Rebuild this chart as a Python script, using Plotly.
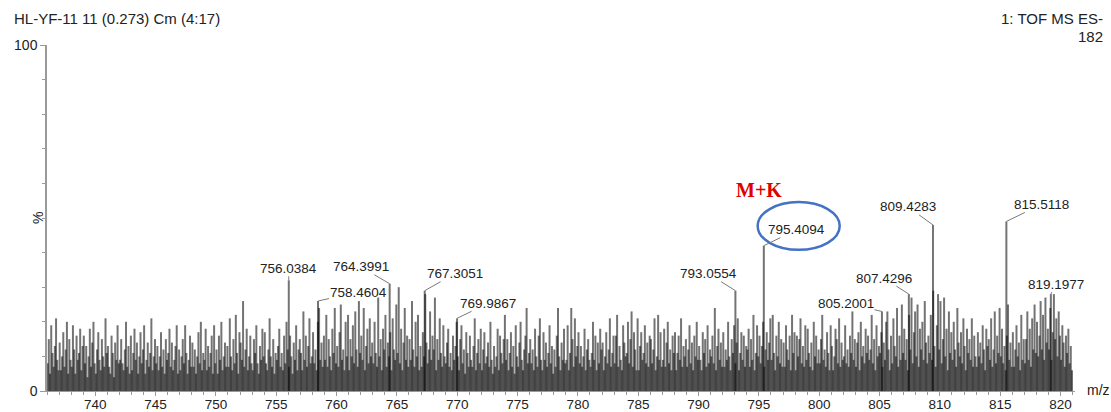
import plotly.graph_objects as go

# ---- spectrum header ----
sample_title = "HL-YF-11 11 (0.273) Cm (4:17)"
scan_function = "1: TOF MS ES-"
scan_count = "182"

# ---- labelled peaks (m/z, relative intensity %) ----
peak_mz = [756.0384, 758.4604, 764.3991, 767.3051, 769.9867, 793.0554,
           795.4094, 805.2001, 807.4296, 809.4283, 815.5118, 819.1977]
peak_int = [32, 26, 31, 29, 21, 29, 42, 23, 28, 48, 49, 28]
# label offsets (pixels) from the peak top to the label centre
label_dx = [0, 40, -29, 30, 31, -27, 33, -36, -25, -25, 35, 5]
label_dy = [-12, -9, -17, -17, -15, -17, -16, -8, -16, -18, -17, -10]

# ---- background ion signal, one row per nominal mass, 0.1 Da apart ----
noise_start = 736.05
noise_step = 0.1
noise_rows = [
    [8, 15, 5, 19, 11, 7, 13, 21, 9, 6],      # 736
    [14, 6, 10, 17, 7, 12, 20, 5, 15, 9],     # 737
    [7, 19, 12, 5, 16, 9, 11, 18, 6, 13],     # 738
    [16, 8, 13, 4, 10, 18, 7, 14, 20, 8],     # 739
    [5, 12, 17, 9, 6, 15, 10, 7, 21, 11],     # 740
    [13, 7, 5, 16, 11, 4, 14, 9, 19, 8],      # 741
    [9, 15, 8, 6, 12, 20, 7, 13, 5, 16],      # 742
    [6, 11, 18, 9, 14, 5, 10, 17, 8, 12],     # 743
    [19, 5, 9, 14, 7, 11, 21, 6, 10, 15],     # 744
    [8, 13, 6, 10, 17, 7, 12, 5, 15, 9],      # 745
    [11, 18, 7, 14, 6, 9, 13, 19, 5, 12],     # 746
    [6, 10, 15, 8, 19, 11, 5, 9, 16, 7],      # 747
    [14, 7, 12, 5, 10, 17, 8, 20, 6, 11],     # 748
    [9, 18, 6, 13, 7, 11, 16, 5, 19, 8],      # 749
    [12, 5, 16, 9, 20, 6, 10, 14, 7, 13],     # 750
    [7, 21, 10, 6, 15, 8, 22, 11, 5, 17],     # 751
    [14, 9, 26, 7, 12, 18, 6, 10, 16, 8],     # 752
    [6, 15, 11, 19, 8, 5, 13, 9, 18, 10],     # 753
    [17, 8, 6, 12, 21, 10, 7, 15, 5, 11],     # 754
    [9, 13, 18, 7, 11, 6, 16, 8, 20, 12],     # 755
    [7, 16, 10, 5, 14, 9, 19, 6, 12, 15],     # 756
    [11, 6, 23, 9, 16, 7, 13, 21, 8, 10],     # 757
    [17, 8, 12, 6, 20, 24, 9, 14, 7, 16],     # 758
    [9, 22, 7, 15, 10, 6, 18, 11, 24, 8],     # 759
    [13, 7, 17, 25, 9, 12, 6, 20, 10, 22],    # 760
    [6, 15, 10, 19, 8, 23, 12, 7, 26, 11],    # 761
    [16, 9, 24, 6, 13, 18, 8, 21, 10, 14],    # 762
    [8, 20, 11, 7, 27, 10, 15, 6, 18, 12],    # 763
    [22, 7, 14, 10, 17, 6, 21, 12, 9, 25],    # 764
    [11, 30, 8, 18, 6, 14, 24, 9, 16, 7],     # 765
    [15, 9, 26, 12, 7, 20, 10, 22, 6, 13],    # 766
    [7, 17, 10, 28, 14, 8, 12, 23, 9, 16],    # 767
    [12, 27, 6, 15, 9, 21, 11, 7, 19, 10],    # 768
    [8, 14, 18, 7, 11, 6, 16, 9, 13, 20],     # 769
    [10, 6, 15, 19, 8, 12, 5, 17, 11, 7],     # 770
    [16, 9, 7, 13, 21, 6, 11, 15, 8, 18],     # 771
    [6, 12, 17, 8, 10, 14, 7, 20, 9, 5],      # 772
    [13, 7, 10, 18, 6, 16, 11, 8, 15, 22],    # 773
    [9, 15, 6, 11, 17, 7, 13, 5, 19, 10],     # 774
    [7, 14, 20, 9, 6, 12, 16, 24, 8, 11],     # 775
    [15, 8, 12, 6, 18, 10, 7, 16, 21, 9],     # 776
    [6, 17, 9, 14, 7, 11, 19, 8, 13, 5],      # 777
    [12, 7, 16, 24, 10, 6, 14, 9, 18, 8],     # 778
    [9, 19, 6, 11, 24, 15, 7, 21, 10, 13],    # 779
    [17, 8, 13, 7, 10, 18, 6, 12, 15, 9],     # 780
    [7, 11, 20, 9, 16, 6, 14, 8, 18, 12],     # 781
    [14, 6, 10, 17, 8, 12, 21, 7, 11, 16],    # 782
    [8, 16, 22, 7, 13, 9, 6, 19, 14, 10],     # 783
    [11, 20, 8, 15, 23, 7, 17, 12, 6, 21],    # 784
    [6, 13, 17, 9, 11, 19, 8, 14, 7, 16],     # 785
    [15, 8, 12, 21, 6, 10, 22, 9, 17, 7],     # 786
    [9, 18, 7, 14, 20, 8, 12, 6, 16, 11],     # 787
    [17, 6, 11, 16, 9, 21, 7, 13, 10, 15],    # 788
    [7, 12, 19, 8, 14, 6, 16, 10, 20, 9],     # 789
    [13, 9, 6, 17, 11, 15, 7, 19, 8, 12],     # 790
    [10, 16, 8, 24, 6, 13, 18, 9, 14, 7],     # 791
    [17, 7, 12, 9, 20, 10, 6, 15, 11, 19],    # 792
    [8, 14, 21, 6, 11, 17, 9, 16, 7, 13],     # 793
    [12, 18, 7, 15, 9, 22, 6, 11, 19, 10],    # 794
    [16, 8, 13, 20, 7, 12, 17, 9, 14, 21],    # 795
    [9, 22, 11, 6, 16, 10, 20, 8, 15, 7],     # 796
    [14, 7, 19, 12, 9, 16, 6, 22, 11, 17],    # 797
    [6, 16, 10, 15, 21, 8, 13, 7, 19, 9],     # 798
    [18, 11, 7, 14, 6, 20, 10, 16, 8, 12],    # 799
    [8, 15, 22, 9, 12, 7, 17, 11, 6, 19],     # 800
    [13, 6, 10, 18, 15, 8, 21, 7, 14, 9],     # 801
    [10, 19, 8, 12, 7, 16, 11, 23, 9, 15],    # 802
    [7, 14, 17, 6, 20, 10, 13, 8, 18, 11],    # 803
    [16, 9, 12, 22, 8, 15, 6, 19, 10, 13],    # 804
    [11, 17, 7, 14, 9, 20, 23, 12, 6, 16],    # 805
    [8, 21, 13, 10, 24, 7, 16, 9, 25, 11],    # 806
    [18, 9, 15, 6, 22, 12, 27, 8, 17, 23],    # 807
    [10, 25, 7, 18, 12, 20, 9, 26, 14, 8],    # 808
    [16, 11, 22, 9, 29, 13, 7, 19, 28, 12],   # 809
    [26, 8, 15, 27, 10, 18, 6, 23, 11, 17],   # 810
    [9, 20, 12, 7, 24, 14, 10, 17, 8, 21],    # 811
    [13, 6, 18, 11, 15, 9, 21, 7, 16, 10],    # 812
    [7, 17, 10, 14, 8, 19, 12, 6, 18, 13],    # 813
    [15, 9, 21, 7, 12, 23, 8, 16, 11, 24],    # 814
    [10, 18, 8, 13, 6, 16, 25, 9, 14, 7],     # 815
    [17, 7, 12, 19, 10, 14, 6, 22, 9, 15],    # 816
    [8, 15, 23, 9, 18, 7, 21, 12, 25, 11],    # 817
    [20, 10, 16, 26, 12, 22, 9, 27, 14, 18],  # 818
    [12, 24, 9, 17, 28, 15, 21, 10, 23, 16],  # 819
    [9, 19, 14, 7, 16, 11, 18, 8, 13, 6],     # 820
]

# ---- axis ----
mz_range = [736.0, 821.2]
mz_ticks = [740, 745, 750, 755, 760, 765, 770, 775, 780, 785, 790, 795,
            800, 805, 810, 815, 820]
pct_ticks = [0, 100]

FONT = "Liberation Sans, Arial, sans-serif"
STICK = "rgba(0,0,0,0.55)"
AXIS = "#9a9a9a"
TEXT = "#222222"

# every ion is a vertical stick from the baseline; sticks are spread over a
# few interleaved traces so that neighbouring sticks blend where they touch
N_LAYERS = 4
sticks = []
k = 0
for row in noise_rows:
    for h in row:
        sticks.append((noise_start + noise_step * k, h))
        k += 1
sticks += list(zip(peak_mz, peak_int))
sticks.sort()

fig = go.Figure()
for layer in range(N_LAYERS):
    xs, ys = [], []
    for mz, h in sticks[layer::N_LAYERS]:
        xs += [mz, mz, None]
        ys += [0, h, None]
    fig.add_trace(go.Scatter(
        x=xs, y=ys, mode="lines",
        line=dict(color=STICK, width=2),
        hoverinfo="skip", showlegend=False,
    ))

annotations = []
for mz, h, dx, dy in zip(peak_mz, peak_int, label_dx, label_dy):
    annotations.append(dict(
        x=mz, y=h, xref="x", yref="y",
        text=f"{mz:.4f}", showarrow=True,
        ax=dx, ay=dy, arrowhead=0, arrowwidth=1, arrowcolor="#7a7a7a",
        standoff=0, startstandoff=0,
        font=dict(family=FONT, size=13.5, color=TEXT),
        borderpad=0,
    ))

# header texts
annotations += [
    dict(text=sample_title, xref="paper", yref="paper", x=0, xshift=-35,
         y=1.0, yshift=27, xanchor="left", yanchor="middle", showarrow=False,
         font=dict(family=FONT, size=15, color=TEXT)),
    dict(text=scan_function, xref="paper", yref="paper", x=1.0, xshift=30,
         y=1.0, yshift=27, xanchor="right", yanchor="middle", showarrow=False,
         font=dict(family=FONT, size=15, color=TEXT)),
    dict(text=scan_count, xref="paper", yref="paper", x=1.0, xshift=30,
         y=1.0, yshift=9, xanchor="right", yanchor="middle", showarrow=False,
         font=dict(family=FONT, size=15, color=TEXT)),
    dict(text="%", xref="paper", yref="paper", x=0, xshift=-9, y=0.5,
         textangle=-90, xanchor="center", yanchor="middle", showarrow=False,
         font=dict(family=FONT, size=14, color=TEXT)),
    dict(text="m/z", xref="paper", yref="paper", x=1.0, xshift=10, y=0,
         yshift=1, xanchor="left", yanchor="middle", showarrow=False,
         font=dict(family=FONT, size=14, color=TEXT)),
    dict(text="<b>M+K</b>", xref="x", yref="y", x=795.0, y=58.1,
         xanchor="center", yanchor="middle", showarrow=False,
         font=dict(family="Liberation Serif, Times New Roman, serif",
                   size=20, color="#e00000")),
]

fig.update_layout(
    width=1111, height=412, autosize=False,
    margin=dict(l=47, r=36, t=45, b=21),
    paper_bgcolor="white", plot_bgcolor="white",
    annotations=annotations,
    shapes=[dict(type="circle", xref="x", yref="y",
                 x0=794.9, x1=801.7, y0=40.8, y1=54.6,
                 line=dict(color="#4472c4", width=2.5))],
    xaxis=dict(
        range=mz_range, tickvals=mz_ticks, showgrid=False, zeroline=False,
        automargin=False,
        showline=True, linecolor=AXIS, linewidth=1,
        ticks="outside", ticklen=4, tickcolor=AXIS,
        ticklabelstandoff=-3,
        minor=dict(dtick=1, ticks="outside", ticklen=3, tickcolor=AXIS,
                   showgrid=False),
        tickfont=dict(family=FONT, size=13.5, color=TEXT),
    ),
    yaxis=dict(
        range=[0, 100], tickvals=pct_ticks, showgrid=False, zeroline=False,
        automargin=False,
        showline=True, linecolor=AXIS, linewidth=1.5,
        ticks="outside", ticklen=5, tickcolor=AXIS,
        minor=dict(dtick=10, ticks="outside", ticklen=3, tickcolor=AXIS,
                   showgrid=False),
        tickfont=dict(family=FONT, size=14, color=TEXT),
    ),
)

fig.write_html("out.html")
